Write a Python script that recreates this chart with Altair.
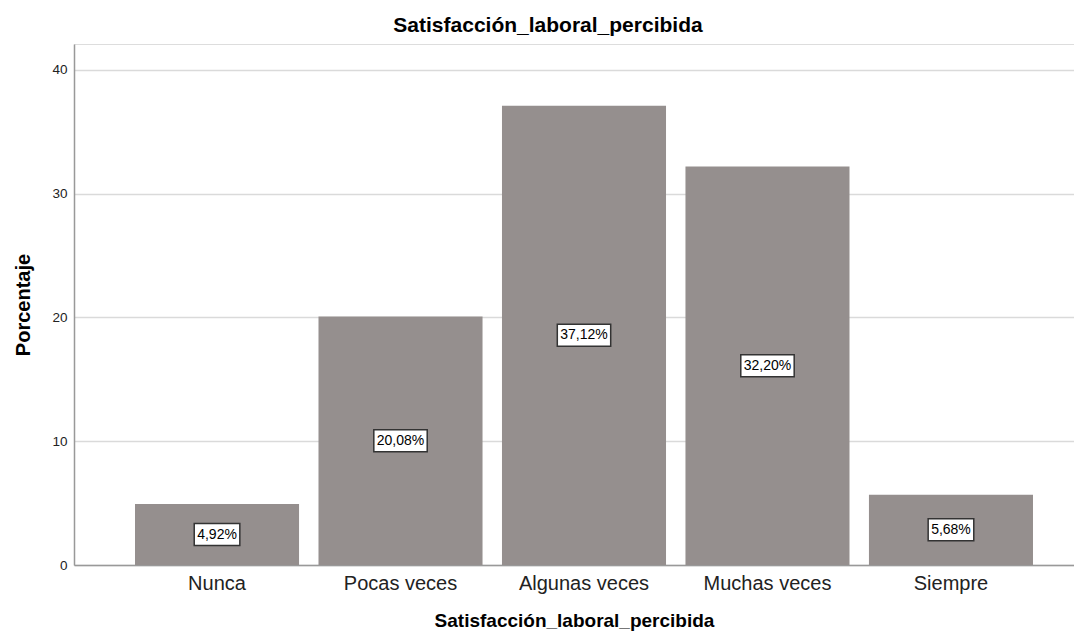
import altair as alt
import pandas as pd

categories = ["Nunca", "Pocas veces", "Algunas veces", "Muchas veces", "Siempre"]
values = [4.92, 20.08, 37.12, 32.20, 5.68]
y_ticks = [0, 10, 20, 30, 40]

FONT = "Liberation Sans"
LABEL_FS = 14

labels = [f"{v:.2f}".replace(".", ",") + "%" for v in values]


def box_path(text):
    em = sum(0.556 if ch.isdigit() else 0.278 if ch == "," else 0.889 for ch in text)
    w = em * LABEL_FS + 6
    h = 22
    return f"M{-w/2:.1f},{-h/2:.1f}H{w/2:.1f}V{h/2:.1f}H{-w/2:.1f}Z"


df = pd.DataFrame({
    "cat": categories,
    "pct": values,
    "mid": [v / 2 for v in values],
    "label": labels,
    "box": [box_path(t) for t in labels],
})

x_enc = alt.X(
    "cat:N",
    sort=categories,
    scale=alt.Scale(paddingInner=0.106, paddingOuter=0.278, align=0.598),
    axis=alt.Axis(
        title="Satisfacción_laboral_percibida",
        labelAngle=0,
        labelFontSize=20,
        labelFont=FONT,
        labelColor="#222",
        labelPadding=8,
        ticks=False,
        domainColor="#999",
        domainWidth=1.5,
        titleFontSize=19,
        titleFont=FONT,
        titleFontWeight="bold",
        titleColor="black",
        titlePadding=18,
        grid=False,
    ),
)

y_scale = alt.Scale(domain=[0, 42.1], nice=False)

bars = alt.Chart(df).mark_bar(color="#958f8e").encode(
    x=x_enc,
    y=alt.Y(
        "pct:Q",
        scale=y_scale,
        axis=alt.Axis(
            values=y_ticks,
            title="Porcentaje",
            labelFontSize=13.5,
            labelFont=FONT,
            labelColor="#222",
            labelPadding=7,
            ticks=False,
            domainColor="#999",
            domainWidth=1.5,
            gridColor="#dadada",
            gridWidth=1.5,
            titleFontSize=20,
            titleFont=FONT,
            titleFontWeight="bold",
            titleColor="black",
            titlePadding=18,
        ),
    ),
)

boxes = alt.Chart(df).mark_point(
    filled=True, fill="white", stroke="#333", strokeWidth=1.5, opacity=1, size=4
).encode(
    x=alt.X("cat:N", sort=categories),
    y=alt.Y("mid:Q", scale=y_scale),
    shape=alt.Shape("box:N", scale=None, legend=None),
)

texts = alt.Chart(df).mark_text(
    font=FONT, fontSize=LABEL_FS, color="black", baseline="middle", align="center"
).encode(
    x=alt.X("cat:N", sort=categories),
    y=alt.Y("mid:Q", scale=y_scale),
    text="label:N",
)

chart = (
    alt.layer(bars, boxes, texts)
    .properties(
        width=1000,
        height=521,
        autosize=alt.AutoSizeParams(type="none"),
        padding={"left": 66, "top": 36, "right": 0, "bottom": 66},
        title=alt.TitleParams(
            "Satisfacción_laboral_percibida",
            fontSize=21,
            font=FONT,
            fontWeight="bold",
            color="black",
            dx=-26,
            offset=8,
        ),
    )
    .configure_view(stroke=None)
    .configure(background="white")
)

chart.save("out.html", embed_options={"renderer": "svg", "actions": False})
